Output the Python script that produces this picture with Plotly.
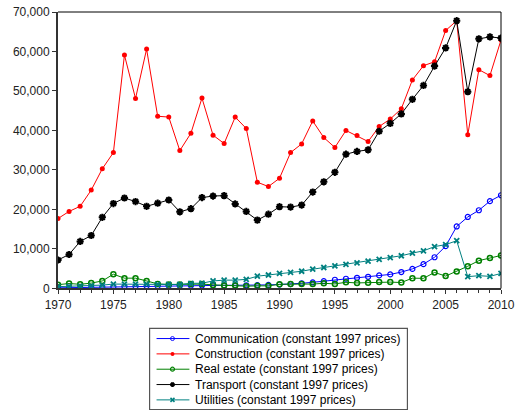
import plotly.graph_objects as go

years = list(range(1970, 2011))

communication = [150, 200, 250, 300, 350, 450, 500, 550, 600, 620, 650, 650, 700, 750, 750,
                 800, 800, 800, 850, 900, 1000, 1100, 1300, 1550, 1850, 2200, 2450, 2700, 2950,
                 3300, 3550, 4150, 4950, 6150, 7900, 10700, 15700, 18100, 19800, 22100, 23600]
construction = [17700, 19500, 20800, 24900, 30300, 34400, 59100, 48100, 60600, 43600, 43400,
                34900, 39300, 48200, 38800, 36700, 43400, 40500, 26900, 25800, 27900, 34400,
                36600, 42400, 38200, 35700, 40000, 38700, 37200, 41000, 42900, 45500, 52800,
                56400, 57400, 65300, 67800, 38900, 55400, 53900, 62900]
real_estate = [950, 1250, 1050, 1350, 1900, 3600, 2600, 2600, 1900, 1150, 1000, 1000, 1150,
               1100, 900, 750, 750, 570, 650, 650, 1050, 1150, 1100, 1100, 1300, 1150, 1550,
               1400, 1450, 1650, 1600, 1500, 2600, 2560, 4050, 3130, 4300, 5620, 7040, 7700, 8350]
transport = [7200, 8600, 11900, 13400, 18000, 21500, 22900, 22000, 20800, 21600, 22400, 19400,
             20200, 23000, 23400, 23500, 21400, 19500, 17300, 18800, 20700, 20600, 21100, 24400,
             27000, 29400, 34000, 34700, 35100, 39800, 41800, 44200, 47900, 51400, 56300, 60900,
             67800, 49800, 63200, 63700, 63400]
utilities = [450, 550, 600, 700, 850, 1100, 1100, 1100, 1100, 1050, 1050, 1000, 1300, 1320,
             1900, 2100, 2100, 2300, 3100, 3400, 3800, 4050, 4350, 4870, 5300, 5720, 6120, 6500,
             6900, 7360, 7800, 8280, 8950, 9520, 10590, 11090, 12080, 2980, 3230, 3060, 3800]

series_names = ["Communication (constant 1997 prices)",
                "Construction (constant 1997 prices)",
                "Real estate (constant 1997 prices)",
                "Transport (constant 1997 prices)",
                "Utilities (constant 1997 prices)"]
series_values = [communication, construction, real_estate, transport, utilities]

styles = [
    dict(color="#0000FF", symbol="circle-open", size=5, lw=1.2),
    dict(color="#FF0000", symbol="circle", size=5, lw=0),
    dict(color="#008000", symbol="circle-open", size=5, lw=1.5),
    dict(color="#000000", symbol="asterisk-open", size=6, lw=2.0),
    dict(color="#008080", symbol="x-thin-open", size=5, lw=1.8),
]

FONT = "Liberation Sans, Arial, sans-serif"
fig = go.Figure()

for name, vals, st in zip(series_names, series_values, styles):
    fig.add_trace(go.Scatter(
        x=years, y=vals, name=name, mode="lines+markers",
        line=dict(color=st["color"], width=1),
        marker=dict(symbol=st["symbol"], size=st["size"], color=st["color"],
                    line=dict(color=st["color"], width=st["lw"])),
        showlegend=False, xaxis="x", yaxis="y"))

# hand-made legend drawn on an auxiliary pixel-like axis below the plot
row_y = [344.3, 359.9, 375.5, 391.1, 406.7]
for name, st, ry in zip(series_names, styles, row_y):
    fig.add_trace(go.Scatter(
        x=[157, 190], y=[ry, ry], mode="lines",
        line=dict(color=st["color"], width=1), showlegend=False,
        hoverinfo="skip", xaxis="x2", yaxis="y2"))
    fig.add_trace(go.Scatter(
        x=[173], y=[ry], mode="markers",
        marker=dict(symbol=st["symbol"], size=4, color=st["color"],
                    line=dict(color=st["color"], width=max(st["lw"] - 0.3, 0))),
        showlegend=False, hoverinfo="skip", xaxis="x2", yaxis="y2"))
    fig.add_annotation(x=194, y=ry, xref="x2", yref="y2", text=name, showarrow=False,
                       xanchor="left", yanchor="middle",
                       font=dict(family=FONT, size=12, color="#000000"))

fig.add_shape(type="rect", xref="x2", yref="y2", x0=150, x1=409, y0=334, y1=416.5,
              line=dict(color="#555555", width=1.2), fillcolor="rgba(0,0,0,0)")

# thin top/right frame
fig.add_shape(type="line", xref="x domain", yref="y domain", x0=0, x1=1, y0=1, y1=1,
              line=dict(color="#000000", width=1))
fig.add_shape(type="line", xref="x domain", yref="y domain", x0=1, x1=1, y0=0, y1=1,
              line=dict(color="#000000", width=1))

ydom_bottom = (417 - 293.3) / 405.0

fig.update_layout(
    width=515, height=417,
    margin=dict(l=58, r=12, t=12, b=0, pad=0),
    paper_bgcolor="white", plot_bgcolor="white",
    font=dict(family=FONT, size=12, color="#222222"),
    xaxis=dict(range=[1970, 2010], tickvals=list(range(1970, 2011, 5)),
               ticks="outside", ticklen=4, tickcolor="#333333",
               minor=dict(dtick=1, ticks="outside", ticklen=3, tickcolor="#333333"),
               showline=True, linecolor="#333333", linewidth=2, showgrid=False,
               zeroline=False, anchor="y", domain=[0, 1], ticklabeloverflow="allow",
               tickfont=dict(family=FONT, size=12, color="#222222")),
    yaxis=dict(range=[0, 70000], dtick=10000, tickformat=",d",
               ticks="outside", ticklen=4, tickcolor="#333333",
               showline=True, linecolor="#333333", linewidth=2, showgrid=False,
               zeroline=False, anchor="x", domain=[ydom_bottom, 1],
               tickfont=dict(family=FONT, size=12, color="#222222")),
    xaxis2=dict(range=[58, 503], domain=[0, 1], anchor="y2", visible=False, fixedrange=True),
    yaxis2=dict(range=[417, 293.3], domain=[0, ydom_bottom], anchor="x2", visible=False,
                fixedrange=True),
)

fig.write_html("out.html", config={"displayModeBar": False},
               post_script="document.body.style.margin='0px';document.body.style.overflow='hidden';")
